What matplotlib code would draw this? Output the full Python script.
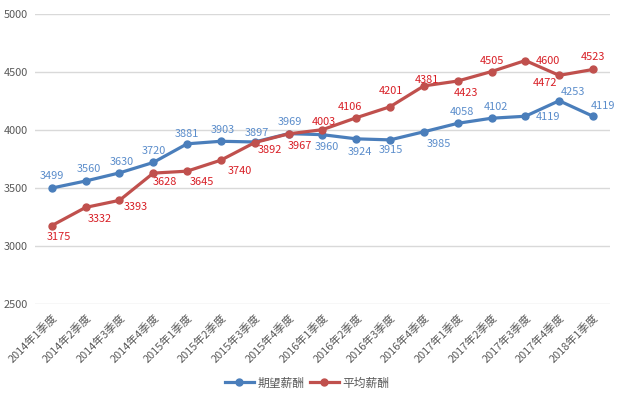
import matplotlib
matplotlib.use("Agg")
import matplotlib.pyplot as plt

plt.rcParams['font.family'] = ['Noto Sans CJK SC', 'DejaVu Sans']

categories = ["2014年1季度", "2014年2季度", "2014年3季度", "2014年4季度",
              "2015年1季度", "2015年2季度", "2015年3季度", "2015年4季度",
              "2016年1季度", "2016年2季度", "2016年3季度", "2016年4季度",
              "2017年1季度", "2017年2季度", "2017年3季度", "2017年4季度",
              "2018年1季度"]
expected = [3499, 3560, 3630, 3720, 3881, 3903, 3897, 3969, 3960, 3924,
            3915, 3985, 4058, 4102, 4119, 4253, 4119]
average = [3175, 3332, 3393, 3628, 3645, 3740, 3892, 3967, 4003, 4106,
           4201, 4381, 4423, 4505, 4600, 4472, 4523]
series_names = ["期望薪酬", "平均薪酬"]
yticks = [2500, 3000, 3500, 4000, 4500, 5000]

# label offsets in pixels (dx, dy up)
blue_off = [(0, 12), (3, 12), (2, 11), (1, 11), (0, 10), (2, 11), (2, 9), (1, 12),
            (4, -12), (4, -13), (1, -10), (15, -12), (4, 11), (4, 11), (23, -1),
            (14, 9), (10, 10)]
red_off = [(7, -11), (14, -12), (16, -7), (12, -9), (15, -11), (19, -11), (15, -7),
           (11, -12), (1, 8), (-6, 11), (1, 16), (3, 6), (8, -12), (0, 11),
           (23, 0), (-14, -8), (0, 12)]

blue = "#4a7ebb"
red = "#c0504d"
blue_lbl = "#5b8dcb"
red_lbl = "#d81f26"
fs = 7.9

fig = plt.figure(figsize=(6.23, 3.96), dpi=100)
ax = fig.add_axes([0.056, 0.232, 0.923, 0.733])

x = list(range(len(categories)))
ax.plot(x, expected, color=blue, lw=2.3, marker='o', ms=5, label=series_names[0], zorder=3)
ax.plot(x, average, color=red, lw=2.3, marker='o', ms=5, label=series_names[1], zorder=3)

for i, v in enumerate(expected):
    ax.annotate(str(v), (i, v), xytext=blue_off[i], textcoords='offset pixels',
                ha='center', va='center', fontsize=fs, color=blue_lbl, zorder=4)
for i, v in enumerate(average):
    ax.annotate(str(v), (i, v), xytext=red_off[i], textcoords='offset pixels',
                ha='center', va='center', fontsize=fs, color=red_lbl, zorder=4)

ax.set_xlim(-0.5, len(categories) - 0.5)
ax.set_ylim(2497, 5003)
ax.set_yticks(yticks)
ax.set_yticklabels([str(t) for t in yticks], fontsize=fs, color="#595959")
ax.set_xticks(x)
ax.set_xticklabels(categories, rotation=45, ha='right', rotation_mode='anchor',
                   fontsize=fs, color="#595959")
ax.tick_params(axis='both', length=0)
ax.tick_params(axis='x', pad=6)
ax.tick_params(axis='y', pad=5)
ax.grid(axis='y', color="#d9d9d9", lw=1)
ax.set_axisbelow(True)
for s in ax.spines.values():
    s.set_visible(False)

fig.legend(loc='center', bbox_to_anchor=(0.493, 0.033), ncol=2, frameon=False,
           fontsize=8.5, handlelength=2.5, handletextpad=0.3, columnspacing=0.4,
           labelcolor="#595959")

fig.savefig("out.png", dpi=100, facecolor="white")
